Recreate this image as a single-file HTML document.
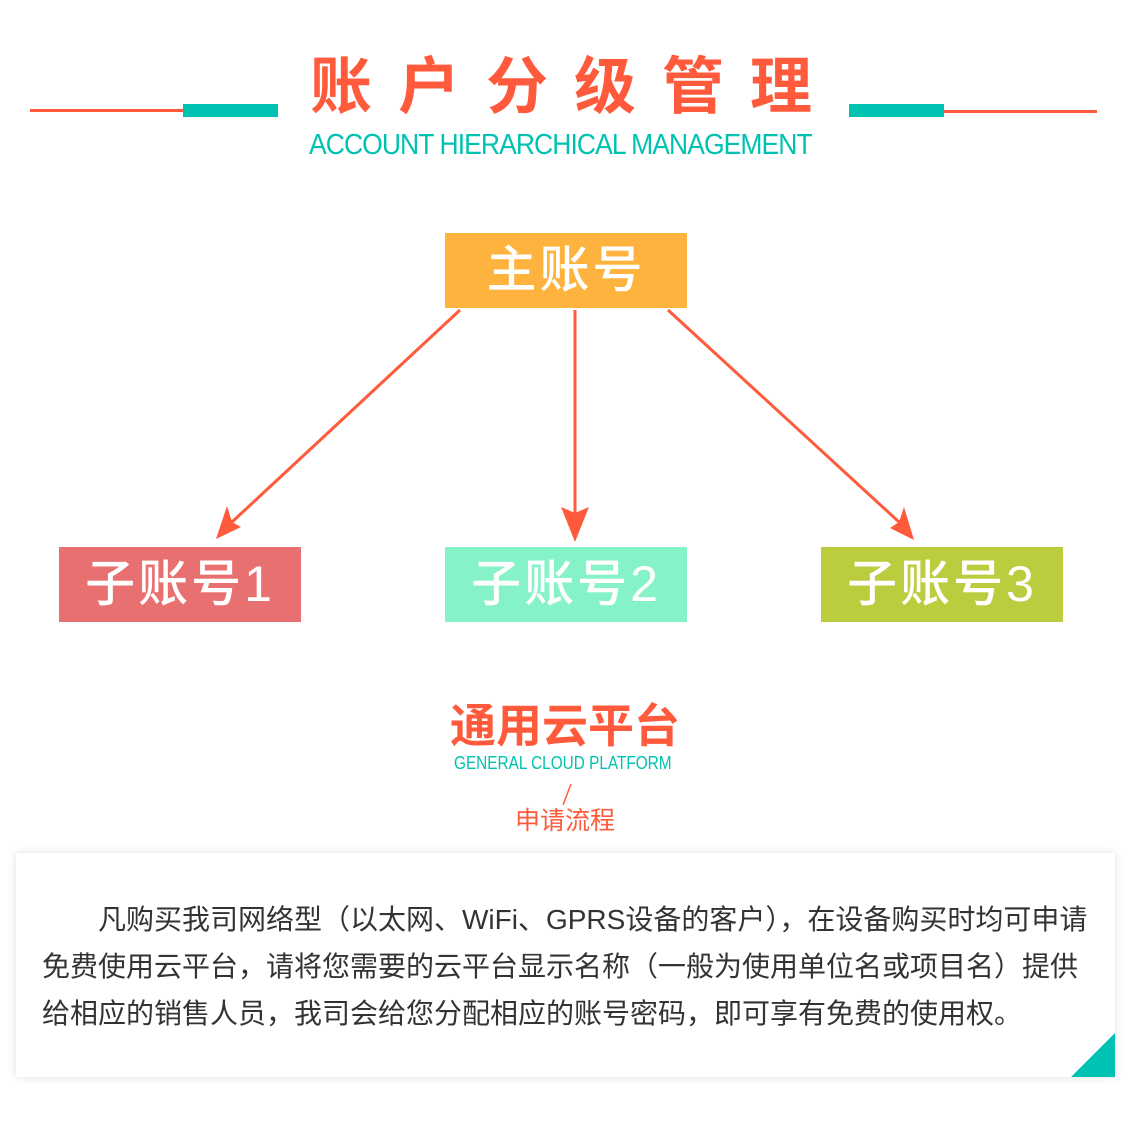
<!DOCTYPE html>
<html><head><meta charset="utf-8"><style>
body{margin:0;width:1130px;height:1141px;background:#fff;position:relative;overflow:hidden;font-family:"Liberation Sans","Noto Sans CJK SC",sans-serif}
.a{position:absolute}
.box{position:absolute;color:#fff;font-size:50px;font-weight:500;text-align:center;line-height:75px;height:75px;width:242px;letter-spacing:3px}
.card{position:absolute;left:16px;top:853px;width:1099px;height:224px;background:#fff;box-shadow:0 0 8px rgba(0,0,0,0.13)}
.card p{margin:0;position:absolute;left:26px;width:1070px;font-size:28px;color:#333;line-height:47px;top:43px;white-space:nowrap}
</style></head><body>
<div class="a" style="left:30px;top:109px;width:155px;height:3px;background:#FF5A3C"></div>
<div class="a" style="left:183px;top:104px;width:95px;height:13px;background:#00C2B2"></div>
<div class="a" style="left:849px;top:104px;width:95px;height:13px;background:#00C2B2"></div>
<div class="a" style="left:944px;top:110px;width:153px;height:3px;background:#FF5A3C"></div>
<div class="a" style="left:310px;top:48px;font-size:62px;font-weight:bold;color:#FF5A3C;letter-spacing:26px;white-space:nowrap;line-height:80px">账户分级管理</div>
<div class="a" style="left:309px;top:128px;font-size:29px;color:#00C2B2;line-height:34px;white-space:nowrap;transform:scaleX(0.913);transform-origin:left;letter-spacing:-1px">ACCOUNT HIERARCHICAL MANAGEMENT</div>
<div class="box" style="left:445px;top:233px;background:#FFB33F">主账号</div>
<div class="box" style="left:59px;top:547px;background:#E87070">子账号1</div>
<div class="box" style="left:445px;top:547px;background:#86F2C8">子账号2</div>
<div class="box" style="left:821px;top:547px;background:#BBCC3E">子账号3</div>
<svg class="a" style="left:0;top:0" width="1130" height="1141">
<g stroke="#FF5A3C" stroke-width="3" fill="none">
<line x1="460" y1="310" x2="232" y2="522"/>
<line x1="575" y1="310" x2="575" y2="513"/>
<line x1="668" y1="310" x2="899" y2="522"/>
<line x1="571" y1="784" x2="563" y2="805" stroke-width="1.5"/>
</g>
<g fill="#FF5A3C">
<polygon points="216,539 227,506 232,522 241,527"/>
<polygon points="575,542 561,507 575,513 589,507"/>
<polygon points="914,540 904,507 899,522 890,528"/>
</g>
</svg>
<div class="a" style="left:440px;top:698px;width:250px;text-align:center;font-size:46px;font-weight:bold;color:#FF5A3C;line-height:56px">通用云平台</div>
<div class="a" style="left:454px;top:752px;font-size:18px;color:#00C2B2;line-height:22px;white-space:nowrap;transform:scaleX(0.853);transform-origin:left">GENERAL CLOUD PLATFORM</div>
<div class="a" style="left:490px;top:804px;width:150px;text-align:center;font-size:25px;color:#FF5A3C;line-height:34px">申请流程</div>
<div class="card"><p>&emsp;&emsp;凡购买我司网络型（以太网、WiFi、GPRS设备的客户），在设备购买时均可申请<br>免费使用云平台，请将您需要的云平台显示名称（一般为使用单位名或项目名）提供<br>给相应的销售人员，我司会给您分配相应的账号密码，即可享有免费的使用权。</p>
<svg class="a" style="right:0;bottom:0" width="44" height="44"><polygon points="44,0 44,44 0,44" fill="#00C2B2"/></svg></div>
</body></html>
